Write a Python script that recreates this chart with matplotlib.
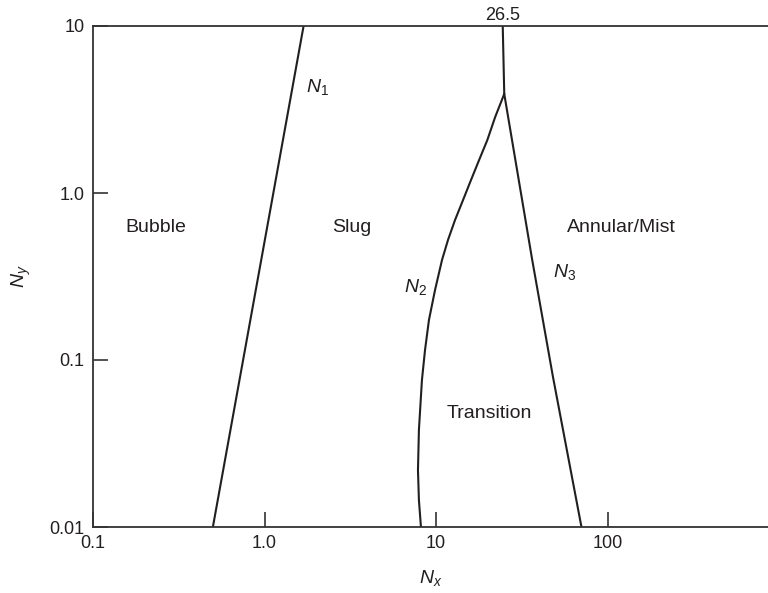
import matplotlib
matplotlib.use("Agg")
import matplotlib.pyplot as plt
import numpy as np

plt.rcParams['font.family'] = ['Liberation Sans', 'DejaVu Sans']
plt.rcParams['mathtext.fontset'] = 'custom'
plt.rcParams['mathtext.rm'] = 'Liberation Sans'
plt.rcParams['mathtext.it'] = 'Liberation Sans:italic'

# ------- data -------
n1_x = [0.50, 1.69]
n1_y = [0.01, 10]

top_x = [24.5, 25.0]
top_y = [10, 3.92]

n2_x = [8.17, 7.95, 7.85, 7.95, 8.28, 8.63, 9.10, 9.87, 10.84, 11.75,
        12.91, 14.38, 16.02, 17.84, 19.9, 22.13, 25.0]
n2_y = [0.01, 0.0145, 0.0219, 0.0381, 0.0759, 0.1148, 0.174, 0.2624, 0.397, 0.5236,
        0.689, 0.908, 1.20, 1.576, 2.07, 2.85, 3.92]

n3_x = [25.0, 36.4, 48.0, 70.5]
n3_y = [3.92, 0.397, 0.080, 0.01]

x_ticks = [0.1, 1.0, 10, 100]
x_labels = ['0.1', '1.0', '10', '100']
y_ticks = [0.01, 0.1, 1.0, 10]
y_labels = ['0.01', '0.1', '1.0', '10']

regions = ['Bubble', 'Slug', 'Annular/Mist', 'Transition']
region_x = [0.231, 3.23, 121, 20.4]
region_y = [0.625, 0.625, 0.62, 0.048]

curve_names = [r'$N_1$', r'$N_2$', r'$N_3$']
curve_lx = [2.04, 7.6, 56.1]
curve_ly = [4.31, 0.274, 0.337]

# ------- plot -------
ink = '#231f20'
fig = plt.figure(figsize=(7.68, 5.93), dpi=100)
ax = fig.add_axes([93 / 768, 66 / 593, 1 - 93 / 768, 501 / 593])
ax.set_xscale('log')
ax.set_yscale('log')
ax.set_xlim(0.1, 10 ** (-1 + 675 / 171.5))
ax.set_ylim(0.01, 10)

for xs, ys in [(n1_x, n1_y), (top_x, top_y), (n2_x, n2_y), (n3_x, n3_y)]:
    ax.plot(xs, ys, color=ink, lw=1.5, solid_joinstyle='round', solid_capstyle='round')

ax.spines['right'].set_visible(False)
for s in ['left', 'top', 'bottom']:
    ax.spines[s].set_linewidth(1.3)
    ax.spines[s].set_color('#333333')

ax.set_xticks(x_ticks)
ax.set_xticklabels(x_labels)
ax.set_yticks(y_ticks)
ax.set_yticklabels(y_labels)
ax.minorticks_off()
ax.tick_params(direction='in', length=10.5, width=1.2, color='#333333',
               labelsize=13, labelcolor=ink, pad=6)

for name, x, y in zip(regions, region_x, region_y):
    ax.text(x, y, name, ha='center', va='center', fontsize=14, color=ink)

for name, x, y in zip(curve_names, curve_lx, curve_ly):
    ax.text(x, y, name, ha='center', va='center', fontsize=14, color=ink)

ax.text(top_x[0], 10.3, '26.5', ha='center', va='bottom', fontsize=13, color=ink)

ax.set_xlabel(r'$N_x$', fontsize=14, color=ink, labelpad=11)
ax.set_ylabel(r'$N_y$', fontsize=14, color=ink, labelpad=12)

fig.savefig('out.png', dpi=100)
